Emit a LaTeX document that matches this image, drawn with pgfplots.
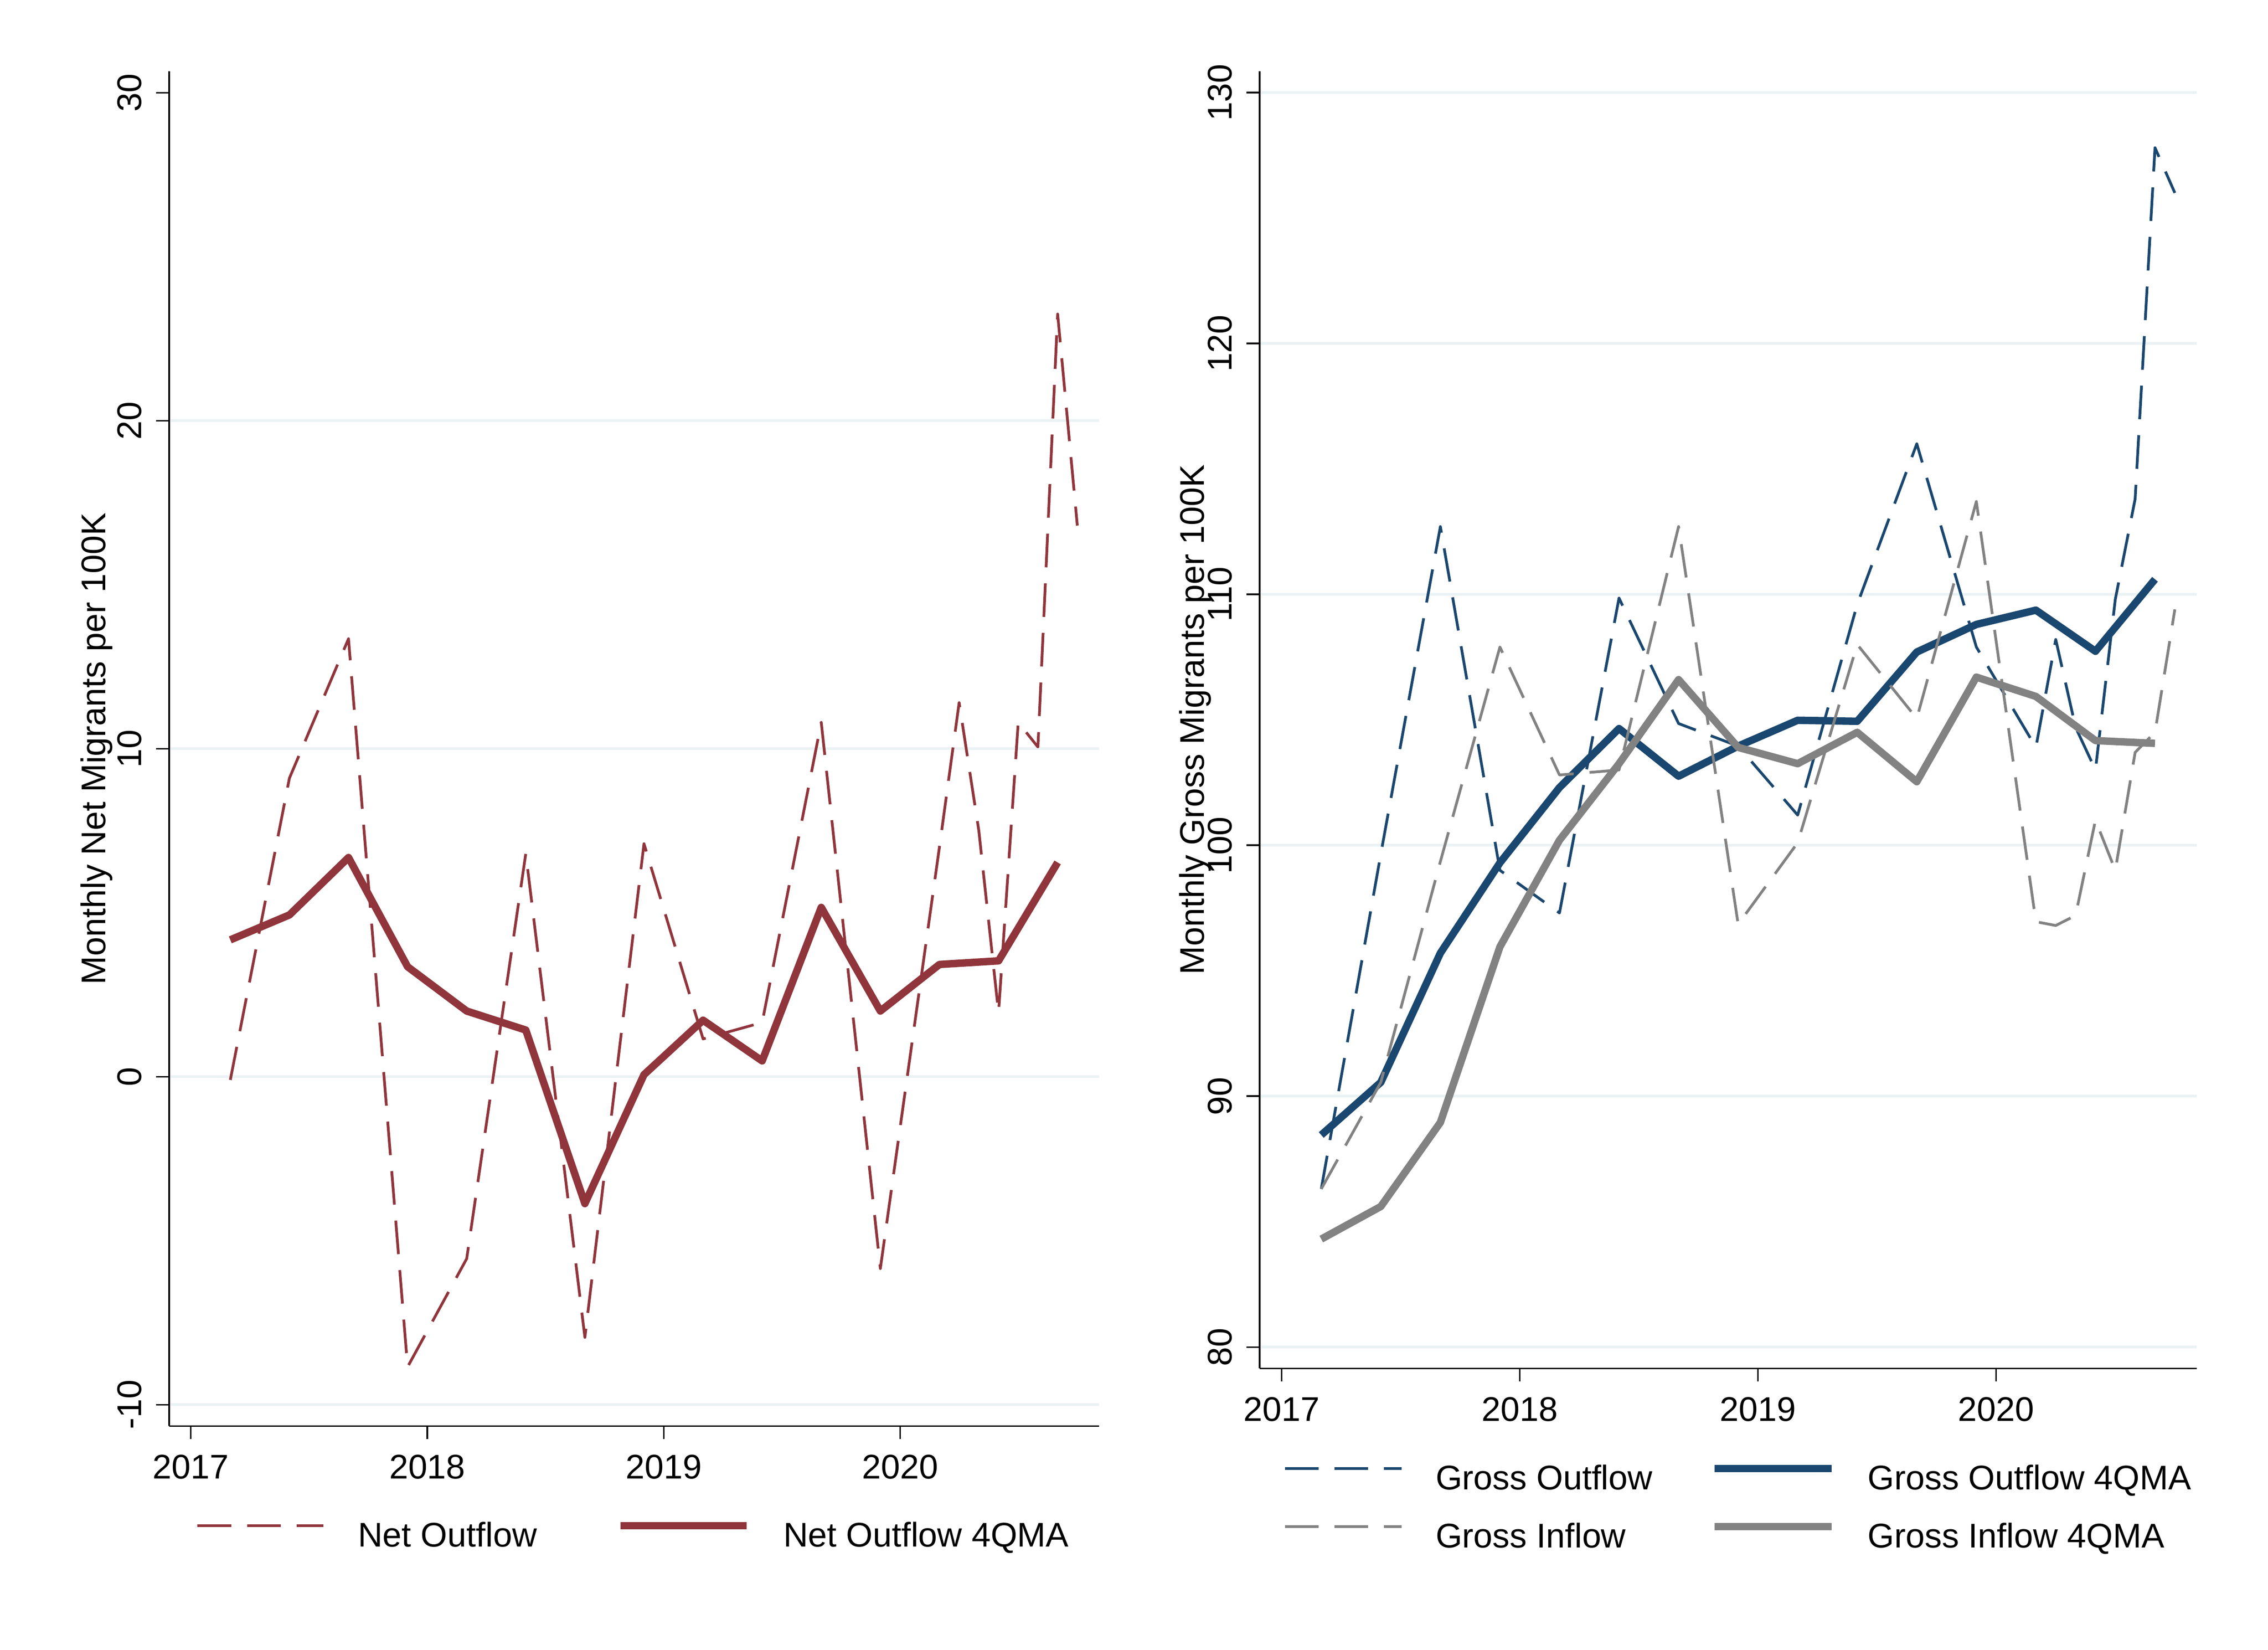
\documentclass[border=0pt]{standalone}
\usepackage{fontspec}
\setmainfont{Liberation Sans}
\usepackage{pgfplots}
\pgfplotsset{compat=1.18}
\definecolor{maroonS}{RGB}{144,53,59}
\definecolor{navyS}{RGB}{26,71,111}
\definecolor{grayS}{RGB}{130,130,130}
\definecolor{gridS}{RGB}{234,242,244}
\newcommand{\sz}{\fontsize{6}{7}\selectfont}
\pgfplotsset{
  stata/.style={
    scale only axis,
    axis x line*=bottom, axis y line*=left,
    axis line style={line width=0.25pt, black, -},
    tick style={line width=0.25pt, black},
    major tick length=2.3pt,
    tick align=outside,
    xmin=2016.908, xmax=2020.842,
    xtick={2017,2018,2019,2020},
    xticklabels={2017,2018,2019,2020},
    ymajorgrids,
    major grid style={line width=0.48pt, gridS},
    tick label style={font=\sz},
    xticklabel style={anchor=north, inner xsep=0pt, inner ysep=2.6pt},
    yticklabel style={rotate=90, anchor=south, inner xsep=0pt, inner ysep=2.3pt},
    /pgf/number format/assume math mode=true,
    /pgf/number format/1000 sep={},
    legend columns=2,
    legend cell align=left,
    legend style={draw=none, fill=none, font=\sz, anchor=center,
      inner sep=0pt, row sep=4.48pt,
      nodes={inner sep=0pt, text height=4.4pt, text depth=1.3pt}},
    every axis plot/.append style={line join=round, line cap=butt},
    dashS/.style={line width=0.48pt, dash pattern=on 5.9pt off 2.8pt},
    thickS/.style={line width=1.3pt},
  }
}
\begin{document}
\begin{tikzpicture}
\path[use as bounding box] (0,0) rectangle (397.48pt,289.06pt);
% ---------------- left panel
\begin{axis}[stata,
  at={(29.65pt,39.19pt)}, anchor=south west,
  width=162.97pt, height=237.37pt,
  ymin=-10.65, ymax=30.65,
  ytick={-10,0,10,20},
  extra y ticks={30}, extra y tick style={grid=none},
  every axis y label/.style={at={(axis description cs:-0.0683,0.5)}, rotate=90, anchor=base, font=\sz},
  ylabel={Monthly Net Migrants per 100K},
  legend image code/.code={\draw[#1] (0pt,2.15pt) -- (22.1pt,2.15pt);},
  legend style={at={(0.4982,-0.0827)},
    /tikz/every odd column/.append style={column sep=5.8pt},
    /tikz/every even column/.append style={column sep=14.0pt}},
]
\addplot[dashS, maroonS] coordinates {
(2017.1667,-0.1) (2017.4167,9.1) (2017.6667,13.35) (2017.9167,-8.85)
(2018.1667,-5.55) (2018.4167,6.8) (2018.6667,-7.95) (2018.9167,7.1)
(2019.1667,1.15) (2019.4167,1.65) (2019.6667,10.8) (2019.9167,-5.85)
(2020.1667,7.0) (2020.25,11.4) (2020.3333,7.5) (2020.4167,1.95)
(2020.5,10.8) (2020.5833,10.05) (2020.6667,23.25) (2020.75,16.8)
};
\addlegendentry{Net Outflow}
\addplot[thickS, maroonS] coordinates {
(2017.1667,4.17) (2017.4167,4.93) (2017.6667,6.68) (2017.9167,3.35)
(2018.1667,2.0) (2018.4167,1.42) (2018.6667,-3.87) (2018.9167,0.06)
(2019.1667,1.72) (2019.4167,0.48) (2019.6667,5.16) (2019.9167,2.0)
(2020.1667,3.42) (2020.4167,3.53) (2020.6667,6.53)
};
\addlegendentry{Net Outflow 4QMA}
\end{axis}
% ---------------- right panel
\begin{axis}[stata,
  at={(220.76pt,49.29pt)}, anchor=south west,
  width=164.24pt, height=227.28pt,
  ymin=79.15, ymax=130.85,
  ytick={80,90,100,110,120,130},
  every axis y label/.style={at={(axis description cs:-0.0591,0.5)}, rotate=90, anchor=base, font=\sz},
  ylabel={Monthly Gross Migrants per 100K},
  legend image code/.code={\draw[#1] (0pt,2.15pt) -- (20.5pt,2.15pt);},
  legend style={at={(0.5097,-0.1091)},
    /tikz/every odd column/.append style={column sep=5.7pt},
    /tikz/every even column/.append style={column sep=10.2pt}},
]
\addplot[dashS, navyS] coordinates {
(2017.1667,86.3) (2017.4167,99.65) (2017.6667,112.7) (2017.9167,99.0)
(2018.1667,97.3) (2018.4167,109.85) (2018.6667,104.85) (2018.9167,103.95)
(2019.1667,101.2) (2019.4167,109.6) (2019.6667,116.0) (2019.9167,107.9)
(2020.1667,103.9) (2020.25,108.2) (2020.3333,104.7) (2020.4167,103.0)
(2020.5,109.8) (2020.5833,113.8) (2020.6667,127.8) (2020.75,126.0)
};
\addlegendentry{Gross Outflow}
\addplot[thickS, navyS] coordinates {
(2017.1667,88.45) (2017.4167,90.55) (2017.6667,95.7) (2017.9167,99.3)
(2018.1667,102.3) (2018.4167,104.65) (2018.6667,102.75) (2018.9167,103.95)
(2019.1667,104.98) (2019.4167,104.94) (2019.6667,107.7) (2019.9167,108.8)
(2020.1667,109.37) (2020.4167,107.73) (2020.6667,110.6)
};
\addlegendentry{Gross Outflow 4QMA}
\addplot[dashS, grayS] coordinates {
(2017.1667,86.3) (2017.4167,90.55) (2017.6667,99.35) (2017.9167,107.9)
(2018.1667,102.8) (2018.4167,103.0) (2018.6667,112.7) (2018.9167,96.85)
(2019.1667,100.1) (2019.4167,108.0) (2019.6667,105.05) (2019.9167,113.7)
(2020.1667,96.95) (2020.25,96.8) (2020.3333,97.2) (2020.4167,101.0)
(2020.5,99.0) (2020.5833,103.7) (2020.6667,104.5) (2020.75,109.4)
};
\addlegendentry{Gross Inflow}
\addplot[thickS, grayS] coordinates {
(2017.1667,84.3) (2017.4167,85.6) (2017.6667,88.95) (2017.9167,95.95)
(2018.1667,100.2) (2018.4167,103.25) (2018.6667,106.6) (2018.9167,103.9)
(2019.1667,103.25) (2019.4167,104.5) (2019.6667,102.53) (2019.9167,106.7)
(2020.1667,105.93) (2020.4167,104.17) (2020.6667,104.06)
};
\addlegendentry{Gross Inflow 4QMA}
\end{axis}
\end{tikzpicture}
\end{document}
